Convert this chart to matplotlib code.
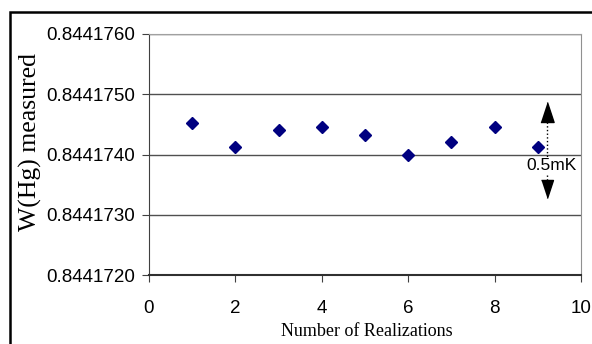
import matplotlib.pyplot as plt
from matplotlib.patches import Rectangle
from matplotlib.ticker import FormatStrFormatter

# measured values per realization
realization = [1, 2, 3, 4, 5, 6, 7, 8, 9]
w_hg = [0.84417453, 0.84417413, 0.84417440, 0.84417446, 0.84417432,
        0.84417399, 0.84417420, 0.84417445, 0.84417413]

y_ticks = [0.8441720, 0.8441730, 0.8441740, 0.8441750, 0.8441760]
x_ticks = [0, 2, 4, 6, 8, 10]

# 0.5 mK marker annotation
arrow_x = 9.21
arrow_up = 0.84417471
arrow_down = 0.84417343
arrow_top_start = 0.84417454
arrow_top_end = 0.84417394
arrow_bot_start = 0.84417366
arrow_bot_end = 0.84417358

plt.rcParams['font.family'] = 'Liberation Sans'

fig = plt.figure(figsize=(5.92, 3.44), dpi=100)
ax = fig.add_axes([149/592, 1 - 275/344, 432/592, 241/344])

ax.plot(realization, w_hg, linestyle='none', marker='D', markersize=6.3,
        color='#000080', zorder=3)

ax.set_xlim(0, 10)
ax.set_ylim(y_ticks[0], y_ticks[-1])
ax.set_xticks(x_ticks)
ax.set_yticks(y_ticks)
ax.yaxis.set_major_formatter(FormatStrFormatter('%.7f'))
ax.grid(axis='y', color='#505050', linewidth=1.0)
ax.tick_params(axis='both', labelsize=13.5, length=5, color='#404040')
ax.tick_params(axis='x', pad=13)
ax.tick_params(axis='y', pad=5)

ax.spines['left'].set_color('#404040')
ax.spines['bottom'].set_color('#303030')
ax.spines['bottom'].set_linewidth(1.5)
ax.spines['right'].set_color('#909090')
ax.spines['top'].set_color('#a0a0a0')

# dotted arrow showing 0.5 mK
ax.plot([arrow_x, arrow_x], [arrow_top_start, arrow_top_end], linestyle=':',
        color='black', linewidth=1)
ax.plot([arrow_x, arrow_x], [arrow_bot_start, arrow_bot_end], linestyle=':',
        color='black', linewidth=1)
up_head = [(-0.33, -0.5), (0.33, -0.5), (0, 0.5)]
down_head = [(-0.33, 0.5), (0.33, 0.5), (0, -0.5)]
ax.plot([arrow_x], [arrow_up], marker=up_head, markersize=14.4, color='black',
        linestyle='none')
ax.plot([arrow_x], [arrow_down], marker=down_head, markersize=13,
        color='black', linestyle='none')
ax.text(9.32, 0.84417381, '0.5mK', fontsize=12.5, ha='center', va='center')

fig.text(367/592, 1 - 332/344, 'Number of Realizations', family='Liberation Serif',
         fontsize=13, ha='center', va='center')
fig.text(30/592, 1 - 142/344, 'W(Hg) measured', family='Liberation Serif',
         fontsize=18.5, ha='center', va='center', rotation=90)

# chart border
fig.patches.append(Rectangle((10/592, -0.2), 1.2, 1.2 - 12/344,
                             transform=fig.transFigure, fill=False,
                             edgecolor='black', linewidth=1.8))

fig.savefig('out.png', dpi=100)
